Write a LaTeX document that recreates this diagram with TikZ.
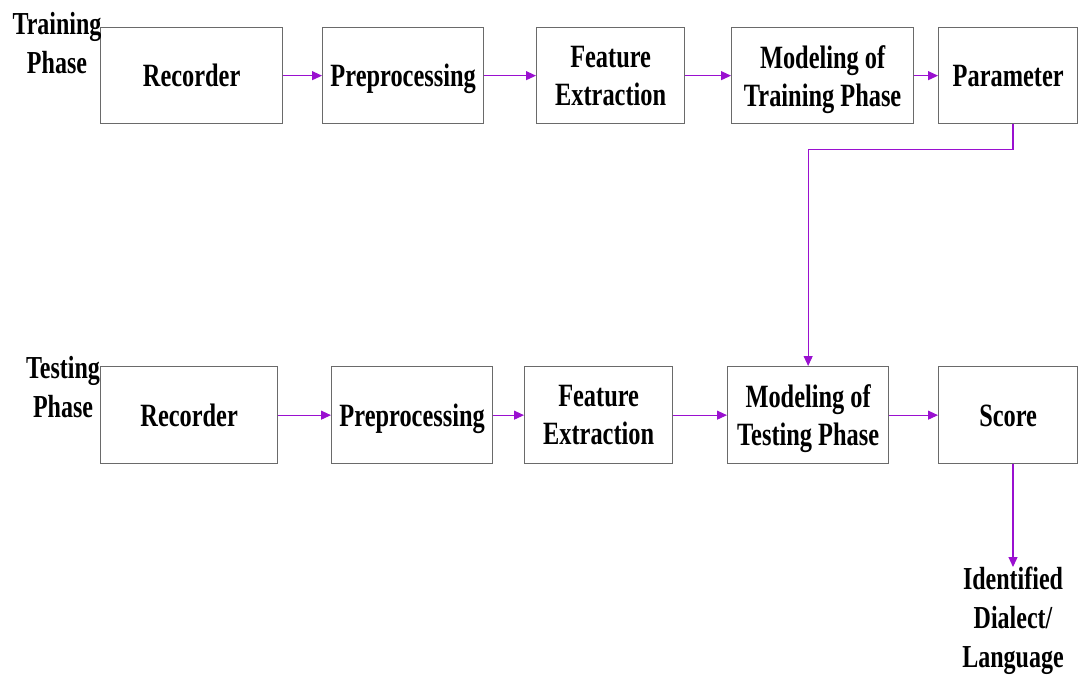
\documentclass[tikz,border=0pt]{standalone}
\usepackage{fontspec}
\setmainfont[FakeStretch=0.75]{Liberation Serif}
\usetikzlibrary{arrows.meta}
\definecolor{arrowpurple}{HTML}{9A10D0}
\definecolor{boxgray}{HTML}{6A6A6A}
\newcommand{\vs}{\vphantom{A}}
\tikzset{
  blk/.style={draw=boxgray, line width=1.3pt, fill=white, anchor=north west, inner sep=0pt, align=center,
              font=\fontsize{32.5}{38}\selectfont\bfseries},
  oneline/.style={text height=22pt, text depth=0pt},
  lbl/.style={inner sep=0pt, align=center, font=\fontsize{32}{39}\selectfont\bfseries},
  conn/.style={draw=arrowpurple, line width=1.1pt, -{Triangle[length=10pt,width=9pt]}},
}
\begin{document}
\begin{tikzpicture}[x=1pt,y=-1pt]
\useasboundingbox (0,0) rectangle (1078,675);
% training row
\node[blk, oneline, minimum width=182pt, minimum height=96pt] (r1) at (100,27) {Recorder};
\node[blk, oneline, minimum width=161pt, minimum height=96pt] (p1) at (322,27) {Preprocessing};
\node[blk, minimum width=148pt, minimum height=96pt] (f1) at (536,27) {\vs Feature\\\smash{Extraction}};
\node[blk, minimum width=182pt, minimum height=96pt] (m1) at (731,27) {\vs Modeling of\\\smash{Training Phase}};
\node[blk, oneline, minimum width=139pt, minimum height=96pt] (pa) at (938,27) {Parameter};
% testing row
\node[blk, oneline, minimum width=177pt, minimum height=97pt] (r2) at (100,366) {Recorder};
\node[blk, oneline, minimum width=161pt, minimum height=97pt] (p2) at (331,366) {Preprocessing};
\node[blk, minimum width=148pt, minimum height=97pt] (f2) at (524,366) {\vs Feature\\\smash{Extraction}};
\node[blk, minimum width=161pt, minimum height=97pt] (m2) at (727,366) {\vs Modeling of\\\smash{Testing Phase}};
\node[blk, oneline, minimum width=139pt, minimum height=97pt] (sc) at (938,366) {Score};
% labels
\node[lbl] (tl) at (57,43) {Training\\Phase};
\node[lbl] (sl) at (63,387) {Testing\\Phase};
\node[lbl, anchor=north] (id) at (1013,567) {Identified\\Dialect/\\Language};
% connectors
\draw[conn] (r1) -- (p1);
\draw[conn] (p1) -- (f1);
\draw[conn] (f1) -- (m1);
\draw[conn] (m1) -- (pa);
\draw[conn] (r2) -- (p2);
\draw[conn] (p2) -- (f2);
\draw[conn] (f2) -- (m2);
\draw[conn] (m2) -- (sc);
\draw[conn] (id.north |- pa.south) -- ++(0,25) -| (m2.north);
\draw[conn] (id.north |- sc.south) -- (id.north);
\end{tikzpicture}
\end{document}
